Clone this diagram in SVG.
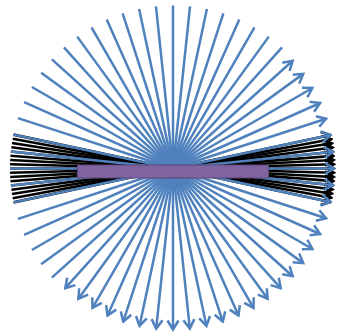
<svg xmlns="http://www.w3.org/2000/svg" width="338" height="334" viewBox="0 0 338 334">
<style>
.b{stroke:#4F81BD;stroke-width:2.5;fill:none}
.k{stroke:#000;stroke-width:2.6;fill:none}
.ba{marker-end:url(#ab)}
.ka{marker-end:url(#ak)}
</style>
<defs>
<marker id="ab" viewBox="-12 -7 14 14" refX="0" refY="0" markerWidth="14" markerHeight="14" markerUnits="userSpaceOnUse" orient="auto">
<path d="M-9,-5.5 L0,0 L-9,5.5" fill="none" stroke="#4F81BD" stroke-width="2.5"/>
</marker>
<marker id="ak" viewBox="-12 -7 14 14" refX="0" refY="0" markerWidth="14" markerHeight="14" markerUnits="userSpaceOnUse" orient="auto">
<path d="M-9,-5 L0,0 L-9,5" fill="none" stroke="#000" stroke-width="2.4"/>
</marker>
<line id="L" x1="0" y1="0" x2="163" y2="0"/>
<line id="A" x1="0" y1="0" x2="161" y2="0"/>
</defs>
<g id="connectors" transform="translate(173,168.5)">
<g class="k">
<use href="#L" transform="rotate(168)"/><use href="#L" transform="rotate(169.5)"/><use href="#L" transform="rotate(171)"/><use href="#L" transform="rotate(172.5)"/><use href="#L" transform="rotate(174)"/><use href="#L" transform="rotate(175.5)"/><use href="#L" transform="rotate(177)"/><use href="#L" transform="rotate(178.5)"/><use href="#L" transform="rotate(180)"/><use href="#L" transform="rotate(181.5)"/><use href="#L" transform="rotate(183)"/><use href="#L" transform="rotate(184.5)"/><use href="#L" transform="rotate(186)"/><use href="#L" transform="rotate(187.5)"/><use href="#L" transform="rotate(189)"/><use href="#L" transform="rotate(190.5)"/><use href="#L" transform="rotate(192)"/>
</g>
<g class="k ka">
<use href="#A" transform="rotate(-12)"/><use href="#A" transform="rotate(-10.5)"/><use href="#A" transform="rotate(-9)"/><use href="#A" transform="rotate(-7.5)"/><use href="#A" transform="rotate(-6)"/><use href="#A" transform="rotate(-4.5)"/><use href="#A" transform="rotate(-3)"/><use href="#A" transform="rotate(-1.5)"/><use href="#A" transform="rotate(0)"/><use href="#A" transform="rotate(1.5)"/><use href="#A" transform="rotate(3)"/><use href="#A" transform="rotate(4.5)"/><use href="#A" transform="rotate(6)"/><use href="#A" transform="rotate(7.5)"/><use href="#A" transform="rotate(9)"/><use href="#A" transform="rotate(10.5)"/><use href="#A" transform="rotate(12)"/>
</g>
<g class="b">
<use href="#L" transform="rotate(-90)"/><use href="#L" transform="rotate(-84)"/><use href="#L" transform="rotate(-78)"/><use href="#L" transform="rotate(-72)"/><use href="#L" transform="rotate(-66)"/><use href="#L" transform="rotate(-60)"/><use href="#L" transform="rotate(-54)"/><use href="#L" transform="rotate(-48)"/>
<use href="#L" transform="rotate(138)"/><use href="#L" transform="rotate(144)"/><use href="#L" transform="rotate(150)"/><use href="#L" transform="rotate(156)"/><use href="#L" transform="rotate(162)"/><use href="#L" transform="rotate(168)"/><use href="#L" transform="rotate(174)"/><use href="#L" transform="rotate(180)"/><use href="#L" transform="rotate(186)"/><use href="#L" transform="rotate(192)"/><use href="#L" transform="rotate(198)"/><use href="#L" transform="rotate(204)"/><use href="#L" transform="rotate(210)"/><use href="#L" transform="rotate(216)"/><use href="#L" transform="rotate(222)"/><use href="#L" transform="rotate(228)"/><use href="#L" transform="rotate(234)"/><use href="#L" transform="rotate(240)"/><use href="#L" transform="rotate(246)"/><use href="#L" transform="rotate(252)"/><use href="#L" transform="rotate(258)"/><use href="#L" transform="rotate(264)"/>
</g>
<g class="b ba">
<use href="#A" transform="rotate(-42)"/><use href="#A" transform="rotate(-36)"/><use href="#A" transform="rotate(-30)"/><use href="#A" transform="rotate(-24)"/><use href="#A" transform="rotate(-18)"/><use href="#A" transform="rotate(-12)"/><use href="#A" transform="rotate(-6)"/><use href="#A" transform="rotate(0)"/><use href="#A" transform="rotate(6)"/><use href="#A" transform="rotate(12)"/><use href="#A" transform="rotate(18)"/><use href="#A" transform="rotate(24)"/><use href="#A" transform="rotate(30)"/><use href="#A" transform="rotate(36)"/><use href="#A" transform="rotate(42)"/><use href="#A" transform="rotate(48)"/><use href="#A" transform="rotate(54)"/><use href="#A" transform="rotate(60)"/><use href="#A" transform="rotate(66)"/><use href="#A" transform="rotate(72)"/><use href="#A" transform="rotate(78)"/><use href="#A" transform="rotate(84)"/><use href="#A" transform="rotate(90)"/><use href="#A" transform="rotate(96)"/><use href="#A" transform="rotate(102)"/><use href="#A" transform="rotate(108)"/><use href="#A" transform="rotate(114)"/><use href="#A" transform="rotate(120)"/><use href="#A" transform="rotate(126)"/><use href="#A" transform="rotate(132)"/>
</g>
</g>
<g id="bar">
<rect x="77.5" y="165" width="191" height="13" fill="#8064A2" stroke="#5C4776" stroke-width="1"/>
</g>
</svg>
